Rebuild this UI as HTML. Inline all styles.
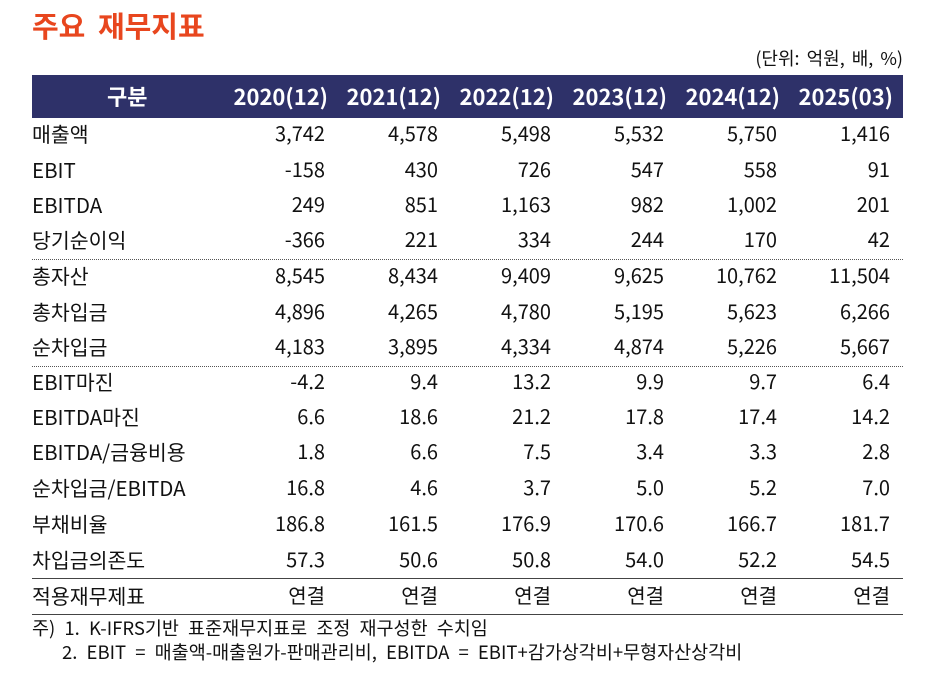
<!DOCTYPE html>
<html><head><meta charset="utf-8">
<style>
body{margin:0;width:929px;height:676px;background:#fff;position:relative;overflow:hidden;font-family:"Liberation Sans","Noto Sans CJK KR",sans-serif;color:#111}
.a{position:absolute;white-space:nowrap;line-height:1}
#title{left:32px;top:11px;font-size:29px;font-weight:bold;color:#e8461e;font-family:"Noto Sans CJK KR",sans-serif;word-spacing:6px}
#unit{right:26px;top:49px;font-size:18px;font-family:"Noto Sans CJK KR",sans-serif;word-spacing:3px}
#hdr{position:absolute;left:32px;top:75px;width:871px;height:43px;background:#2e3169}
.h{color:#fff;font-weight:bold;font-size:22px;top:85px;font-family:"Noto Sans CJK KR",sans-serif}
.c{font-size:20px;font-family:"Noto Sans CJK KR",sans-serif}
.line{position:absolute;left:32px;width:871px}
.n{font-size:18.5px;word-spacing:5px}
</style></head><body>
<div class="a" id="title">주요 재무지표</div>
<div class="a" id="unit">(단위: 억원, 배, %)</div>
<div id="hdr"></div>
<div class="line" style="top:259px;border-top:1px dotted #555"></div>
<div class="line" style="top:366px;border-top:1px dotted #555"></div>
<div class="line" style="top:578px;border-top:1px solid #444"></div>
<div class="line" style="top:614px;border-top:1px solid #444"></div>
<div class="a c n" style="left:32px;top:619px">주) 1. K-IFRS기반 표준재무지표로 조정 재구성한 수치임</div>
<div class="a c n" style="left:62px;top:643px">2. EBIT = 매출액-매출원가-판매관리비, EBITDA = EBIT+감가상각비+무형자산상각비</div>
<script>
const headers=["2020(12)","2021(12)","2022(12)","2023(12)","2024(12)","2025(03)"];
const rowLabels=["매출액","EBIT","EBITDA","당기순이익","총자산","총차입금","순차입금","EBIT마진","EBITDA마진","EBITDA/금융비용","순차입금/EBITDA","부채비율","차입금의존도","적용재무제표"];
const rowValues=[
["3,742","4,578","5,498","5,532","5,750","1,416"],
["-158","430","726","547","558","91"],
["249","851","1,163","982","1,002","201"],
["-366","221","334","244","170","42"],
["8,545","8,434","9,409","9,625","10,762","11,504"],
["4,896","4,265","4,780","5,195","5,623","6,266"],
["4,183","3,895","4,334","4,874","5,226","5,667"],
["-4.2","9.4","13.2","9.9","9.7","6.4"],
["6.6","18.6","21.2","17.8","17.4","14.2"],
["1.8","6.6","7.5","3.4","3.3","2.8"],
["16.8","4.6","3.7","5.0","5.2","7.0"],
["186.8","161.5","176.9","170.6","166.7","181.7"],
["57.3","50.6","50.8","54.0","52.2","54.5"],
["연결","연결","연결","연결","연결","연결"]];
const rowTops=[123,159,194,229,265,301,336,371,406,441,477,513,549,585];
const colRights=[325,438,551,664,777,890];
const W=929;
function add(txt,cls,style,name){const d=document.createElement('div');d.className='a '+cls;d.textContent=txt;d.style.cssText=style;


document.body.appendChild(d);}
add("구분","h","left:107px;","header-category");
headers.forEach((h,i)=>add(h,"h","right:"+(W-colRights[i]-3)+"px;","header-"+h.slice(0,4)));
rowLabels.forEach((l,r)=>{
add(l,"c","left:32px;top:"+rowTops[r]+"px;font-size:20.5px;","row-label");
rowValues[r].forEach((v,i)=>add(v,"c","right:"+(W-colRights[i])+"px;top:"+rowTops[r]+"px;","cell-value"));
});
</script>
</body></html>
